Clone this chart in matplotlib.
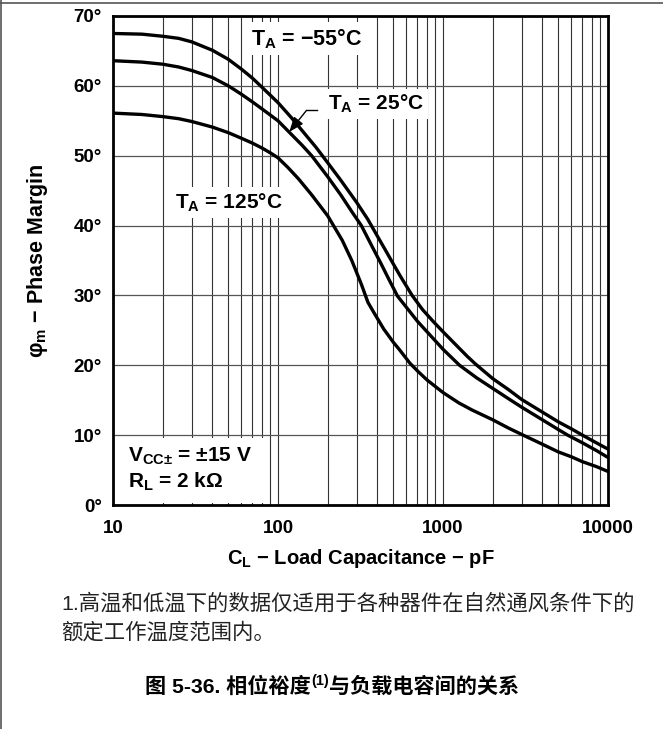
import matplotlib
matplotlib.use('Agg')
import matplotlib.pyplot as plt
from matplotlib.lines import Line2D
from matplotlib.patches import Rectangle

# 相位裕度 vs 负载电容 (读图数据)
cap_m55 = [10, 15, 20, 25, 30, 40, 50, 60, 70, 80, 100, 120, 140, 170, 200, 240, 300, 350, 400,
           450, 500, 550, 650, 750, 870, 1000, 1200, 1400, 1570, 2000, 2500, 3000, 4000, 5000,
           6000, 7000, 8500, 10000]
pm_m55 = [67.5, 67.4, 67.1, 66.8, 66.3, 65.1, 63.8, 62.4, 61.1, 59.8, 57.6, 55.5, 53.6, 51.2, 49.0,
          46.5, 43.3, 40.9, 38.5, 36.4, 34.5, 32.8, 30.0, 28.0, 26.3, 24.8, 22.9, 21.3, 20.2, 18.1,
          16.5, 15.1, 13.3, 11.9, 10.9, 10.0, 8.9, 8.0]

cap_25 = [10, 15, 20, 25, 30, 40, 50, 60, 70, 80, 100, 120, 140, 160, 200, 240, 280, 320, 370,
          420, 470, 530, 600, 700, 800, 1000, 1260, 1600, 2000, 2500, 3000, 4000, 5000, 5700,
          7000, 8500, 10000]
pm_25 = [63.6, 63.4, 63.1, 62.7, 62.2, 61.2, 60.0, 58.8, 57.7, 56.7, 55.0, 53.1, 51.5, 50.0, 47.0,
         44.4, 42.0, 40.0, 37.1, 34.6, 32.3, 29.9, 28.3, 26.3, 24.8, 22.3, 20.0, 18.2, 16.7, 15.2,
         14.0, 12.2, 10.8, 10.0, 8.9, 7.8, 6.8]

cap_125 = [10, 15, 20, 25, 30, 40, 50, 60, 70, 80, 90, 100, 115, 133, 160, 200, 245, 280, 320,
           351, 380, 437, 500, 546, 630, 700, 800, 1000, 1250, 1500, 2000, 2500, 3000, 4000,
           5000, 6000, 7000, 8500, 10000]
pm_125 = [56.1, 55.9, 55.6, 55.3, 54.9, 54.1, 53.3, 52.5, 51.8, 51.1, 50.4, 49.7, 48.3, 46.7, 44.4,
          41.4, 37.9, 35.0, 31.6, 29.0, 27.6, 25.2, 23.3, 22.2, 20.3, 19.2, 17.9, 16.1, 14.6, 13.6,
          12.2, 11.0, 10.1, 8.7, 7.6, 6.9, 6.2, 5.5, 4.8]

xticks = [10, 100, 1000, 10000]
xtick_labels = ['10', '100', '1000', '10000']
yticks = [0, 10, 20, 30, 40, 50, 60, 70]
ytick_labels = ['0°', '10°', '20°', '30°', '40°', '50°', '60°', '70°']

plt.rcParams['font.family'] = ['Liberation Sans', 'DejaVu Sans']
plt.rcParams['mathtext.fontset'] = 'custom'
plt.rcParams['mathtext.rm'] = 'Liberation Sans:bold'
plt.rcParams['mathtext.bf'] = 'Liberation Sans:bold'
plt.rcParams['mathtext.it'] = 'Liberation Sans:bold'

W, H = 663, 729
fig = plt.figure(figsize=(W / 100, H / 100), dpi=100)
ax = fig.add_axes([113 / W, 1 - 505 / H, (608 - 113) / W, (505 - 16) / H])

ax.set_xscale('log')
ax.set_xlim(10, 10000)
ax.set_ylim(0, 70)

for c, p in [(cap_m55, pm_m55), (cap_25, pm_25), (cap_125, pm_125)]:
    ax.plot(c, p, color='black', lw=2.4, solid_joinstyle='round', zorder=5)

ax.grid(which='both', axis='x', color='#333333', lw=0.8, zorder=1)
ax.grid(which='major', axis='y', color='#555555', lw=0.9, zorder=1)
ax.set_axisbelow(True)

ax.set_xticks(xticks, labels=xtick_labels)
ax.set_yticks(yticks, labels=ytick_labels)
ax.tick_params(which='both', length=0)
ax.tick_params(axis='x', pad=11, labelsize=13.5)
ax.tick_params(axis='y', pad=8, labelsize=13.5)
for lab in ax.get_xticklabels() + ax.get_yticklabels():
    lab.set_fontweight('bold')
for s in ax.spines.values():
    s.set_linewidth(2.0)
    s.set_zorder(6)

box = dict(facecolor='white', edgecolor='none', pad=3)
ax.text(150, 66.8, r'T$_\mathrm{A}$ = −55°C', ha='center', va='center', fontsize=15.5,
        fontweight='bold', bbox=box, zorder=4)
ax.text(390, 57.4, r'T$_\mathrm{A}$ = 25°C', ha='center', va='center', fontsize=15,
        fontweight='bold', bbox=box, zorder=4)
ax.text(50, 43.3, r'T$_\mathrm{A}$ = 125°C', ha='center', va='center', fontsize=15,
        fontweight='bold', bbox=box, zorder=4)

# 引线箭头
ax.plot([172, 149], [56.5, 56.5], color='black', lw=1.0, zorder=5)
ax.annotate('', xy=(117, 53.4), xytext=(149, 56.5),
            arrowprops=dict(arrowstyle='-|>,head_length=0.9,head_width=0.35',
                            color='black', lw=1.0, shrinkA=0, shrinkB=0), zorder=5)

ax.add_patch(Rectangle((10.3, 0.25), 78, 9.4, facecolor='white', edgecolor='none', zorder=2))
ax.text(12.3, 6.9, r'V$_\mathrm{CC±}$ = ±15 V', ha='left', va='center', fontsize=15,
        fontweight='bold', zorder=4)
ax.text(12.3, 3.3, r'R$_\mathrm{L}$ = 2 kΩ', ha='left', va='center', fontsize=15,
        fontweight='bold', zorder=4)

fig.text(38 / W, 1 - 261 / H, r'φ$_\mathrm{m}$ − Phase Margin', rotation=90, ha='center',
         va='center', fontsize=15.5, fontweight='bold')
fig.text(361 / W, 1 - 559 / H, r'C$_\mathrm{L}$ − Load Capacitance − pF', ha='center',
         va='center', fontsize=14.5, fontweight='bold')

cjk = ['Liberation Sans', 'Noto Sans CJK SC']
fig.text(61 / W, 1 - 603 / H, '1.高温和低温下的数据仅适用于各种器件在自然通风条件下的',
         family=cjk, fontsize=15.4, va='center', color='#222222')
fig.text(61 / W, 1 - 632 / H, '额定工作温度范围内。',
         family=cjk, fontsize=15.4, va='center', color='#222222')

# 标题 (含上标)
renderer = fig.canvas.get_renderer()
t1 = fig.text(0, 1 - 693 / H, '图 5-36. 相位裕度', family=cjk, fontsize=15.2,
              fontweight='bold', va='baseline')
t2 = fig.text(0, 1 - 685 / H, '(1)', family=cjk, fontsize=10.5,
              fontweight='bold', va='baseline')
t3 = fig.text(0, 1 - 693 / H, '与负载电容间的关系', family=cjk, fontsize=15.2,
              fontweight='bold', va='baseline')
ws = [t.get_window_extent(renderer).width for t in (t1, t2, t3)]
x0 = 332 - sum(ws) / 2
t1.set_x(x0 / W)
t2.set_x((x0 + ws[0]) / W)
t3.set_x((x0 + ws[0] + ws[1]) / W)

# 外框线
fig.add_artist(Line2D([0, 1], [1 - 2.5 / H, 1 - 2.5 / H], color='#555555', lw=1.2))
fig.add_artist(Line2D([0.6 / W, 0.6 / W], [0, 1], color='#555555', lw=1.2))

fig.savefig('out.png', dpi=100)
